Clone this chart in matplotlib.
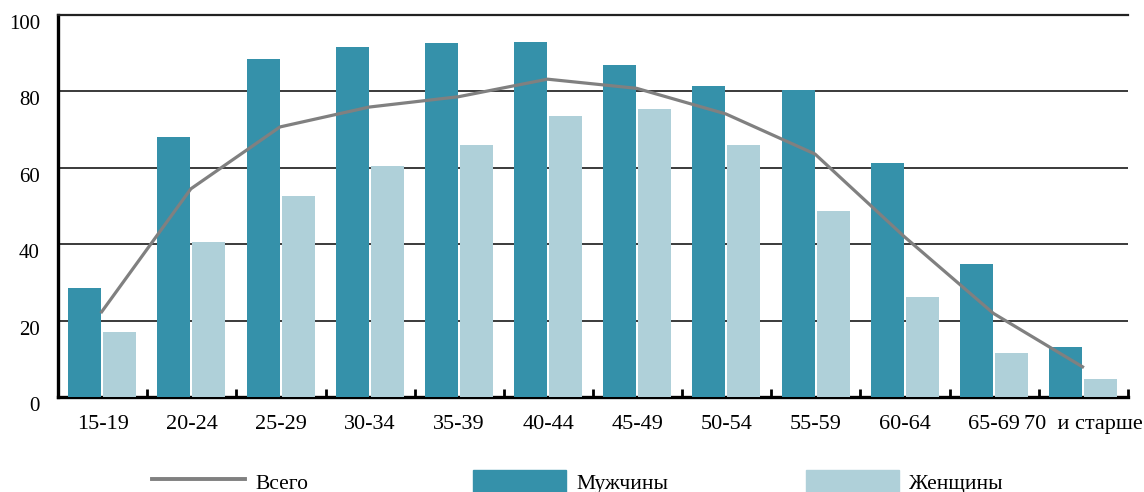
import numpy as np
import matplotlib
matplotlib.use("Agg")
import matplotlib.pyplot as plt
from matplotlib.transforms import ScaledTranslation
from matplotlib.lines import Line2D
from matplotlib.patches import Patch

plt.rcParams["font.family"] = ["Liberation Serif", "DejaVu Serif"]

groups = ["15-19", "20-24", "25-29", "30-34", "35-39", "40-44",
          "45-49", "50-54", "55-59", "60-64", "65-69", "70  и старше"]
men = [28.5, 68.1, 88.5, 91.6, 92.7, 92.9, 86.9, 81.4, 80.4, 61.3, 34.8, 13.1]
women = [17.1, 40.6, 52.6, 60.5, 66.0, 73.6, 75.4, 66.0, 48.7, 26.2, 11.5, 4.7]
total = [22.3, 54.5, 70.7, 75.9, 78.6, 83.2, 80.8, 74.1, 63.6, 42.0, 21.9, 7.9]
yticks = [0, 20, 40, 60, 80, 100]

men_color = "#3591aa"
women_color = "#afd0d9"
line_color = "#808080"

fig = plt.figure(figsize=(11.44, 4.92), dpi=100)
ax = fig.add_axes([58 / 1144, 1 - 397 / 492, 1070 / 1144, 382 / 492])

x = np.arange(len(groups))
ax.bar(x + 0.3, men, width=0.37, color=men_color, zorder=3)
ax.bar(x + 0.692, women, width=0.37, color=women_color, zorder=3)
ax.plot(x + 0.49, total, color=line_color, lw=2.3, zorder=4)

ax.set_xlim(0, len(groups))
ax.set_ylim(0, 100)

# gridlines
for v in yticks[1:-1]:
    ax.axhline(v, color="#3a3a3a", lw=1.4, zorder=1)

ax.set_yticks(yticks)
ax.tick_params(axis="y", length=0, pad=13, labelsize=15)
off = ScaledTranslation(0, -7 / 100, fig.dpi_scale_trans)
for lab in ax.get_yticklabels():
    lab.set_transform(lab.get_transform() + off)

# boundary ticks (no labels) and centered group labels
ax.set_xticks(np.arange(1, len(groups) + 1))
ax.set_xticklabels([])
ax.tick_params(axis="x", which="major", direction="in", length=6, width=2, color="black")
ax.set_xticks(x + 0.5, minor=True)
ax.set_xticklabels(groups, minor=True)
ax.tick_params(axis="x", which="minor", length=0, pad=13, labelsize=16)

ax.spines["right"].set_visible(False)
ax.spines["left"].set_linewidth(2.4)
ax.spines["bottom"].set_linewidth(2.4)
ax.spines["top"].set_linewidth(1.6)
ax.spines["top"].set_color("#222222")

# legend pieces placed separately
h1 = Line2D([], [], color=line_color, lw=2.8)
h2 = Patch(color=men_color)
h3 = Patch(color=women_color)
y_leg = 1 - 482 / 492
for h, lbl, xpos in [(h1, "Всего", 152), (h2, "Мужчины", 473), (h3, "Женщины", 806)]:
    fig.legend(handles=[h], labels=[lbl], loc="center left",
               bbox_to_anchor=(xpos / 1144, y_leg), frameon=False,
               borderpad=0, borderaxespad=0, handlelength=4.3,
               handleheight=1.4, handletextpad=0.5, fontsize=15.5)

fig.savefig("out.png", dpi=100)
